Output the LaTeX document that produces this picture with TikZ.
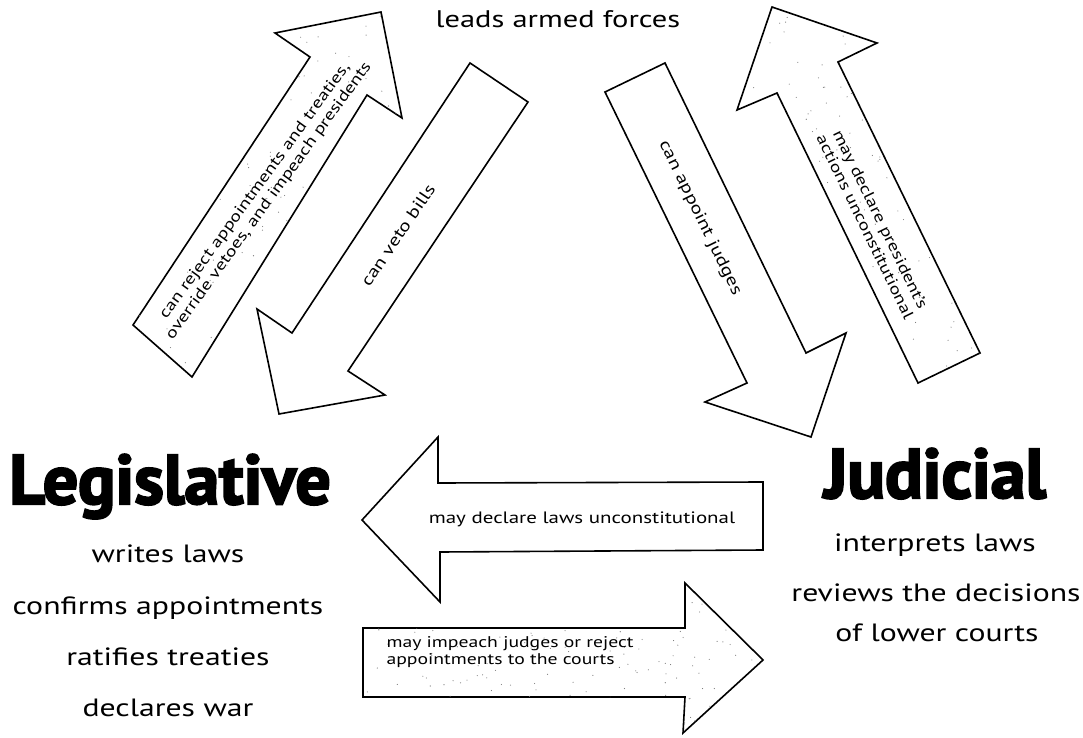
\documentclass[tikz,border=0pt]{standalone}
\usepackage{fontspec}
\setmainfont{PT Sans}[FakeStretch=1.27]
\newfontfamily\heavyfont{PT Sans}[FakeBold=3]
\usetikzlibrary{positioning}

% sparse specks inside a clipped block arrow: x0, y0, width, height
\newcommand{\speckfill}[4]{%
  \foreach \i in {1,...,190}{
    \fill[black!55] ({#1+#3*rnd},{#2+#4*rnd}) circle[radius=0.55pt];
  }}

\begin{document}
\begin{tikzpicture}[x=1pt, y=-1pt,
  blockarrow/.style={draw=black, line width=1.6pt, fill=white, line join=miter},
  branch/.style={font=\heavyfont\bfseries\fontsize{70}{70}\selectfont, anchor=base},
  duty/.style={font=\fontsize{25}{25}\selectfont, anchor=base},
  tag/.style={font=\fontsize{16.5}{18}\selectfont, align=center},
  smalltag/.style={font=\fontsize{15.5}{17}\selectfont, align=center}]
  \useasboundingbox (0,0) rectangle (1083,738);
  \pgfmathsetseed{11}

  % Legislative -> Executive
  \filldraw[blockarrow] (133,325) -- (310,57) -- (275,33) -- (381,12)
    -- (402,118) -- (367,95) -- (192,377) -- cycle;
  \begin{scope}
    \clip (133,325) -- (310,57) -- (275,33) -- (381,12)
      -- (402,118) -- (367,95) -- (192,377) -- cycle;
    \speckfill{130}{10}{275}{370}
  \end{scope}
  \node[smalltag, rotate=54] (reject) at (262,196)
    {can reject appointments and treaties,\\override vetoes, and impeach presidents};

  % Executive -> Legislative
  \filldraw[blockarrow] (470,63) -- (528,102) -- (348,371) -- (385,395)
    -- (279,414) -- (257,309) -- (292,333) -- cycle;
  \node[tag, rotate=56] (veto) at (398,235) {can veto bills};

  % Executive -> Judicial
  \filldraw[blockarrow] (605,92) -- (665,63) -- (806,353) -- (846,333)
    -- (811,437) -- (705,402) -- (747,383) -- cycle;
  \node[tag, rotate=-64] (appoint) at (700,218) {can appoint judges};

  % Judicial -> Executive
  \filldraw[blockarrow] (918,383) -- (777,93) -- (737,110) -- (772,7)
    -- (877,43) -- (838,62) -- (980,353) -- cycle;
  \begin{scope}
    \clip (918,383) -- (777,93) -- (737,110) -- (772,7)
      -- (877,43) -- (838,62) -- (980,353) -- cycle;
    \speckfill{735}{5}{247}{380}
  \end{scope}
  \node[smalltag, rotate=-64] (actions) at (873,223)
    {may declare president's\\actions unconstitutional};

  % Judicial -> Legislative
  \filldraw[blockarrow] (763,482) -- (438,483) -- (438,437) -- (362,520)
    -- (440,602) -- (440,552) -- (763,550) -- cycle;
  \node[tag, anchor=base] (unconst) at (582,523) {may declare laws unconstitutional};

  % Legislative -> Judicial
  \filldraw[blockarrow] (363,628) -- (685,628) -- (685,583) -- (763,660)
    -- (683,733) -- (685,697) -- (363,697) -- cycle;
  \begin{scope}
    \clip (363,628) -- (685,628) -- (685,583) -- (763,660)
      -- (683,733) -- (685,697) -- (363,697) -- cycle;
    \speckfill{362}{582}{402}{152}
  \end{scope}
  \node[smalltag, align=left, anchor=base west] (impeach) at (383,664)
    {may impeach judges or reject\\appointments to the courts};

  % Branch names and duties
  \node[duty, font=\fontsize{24}{24}\selectfont] (forces) at (558,28) {leads armed forces};
  \node[branch] (leg) at (170,504) {Legislative};
  \node[branch] (jud) at (935,498) {Judicial};
  \foreach \y/\lab in {562/writes laws, 614/confirms appointments,
                       665/ratifies treaties, 716/declares war}{
    \node[duty] at (168,\y) {\lab};
  }
  \node[duty] (interp) at (935,551) {interprets laws};
  \node[duty] (review) at (936,601) {reviews the decisions};
  \node[duty] (lower) at (937,641) {of lower courts};
\end{tikzpicture}
\end{document}
